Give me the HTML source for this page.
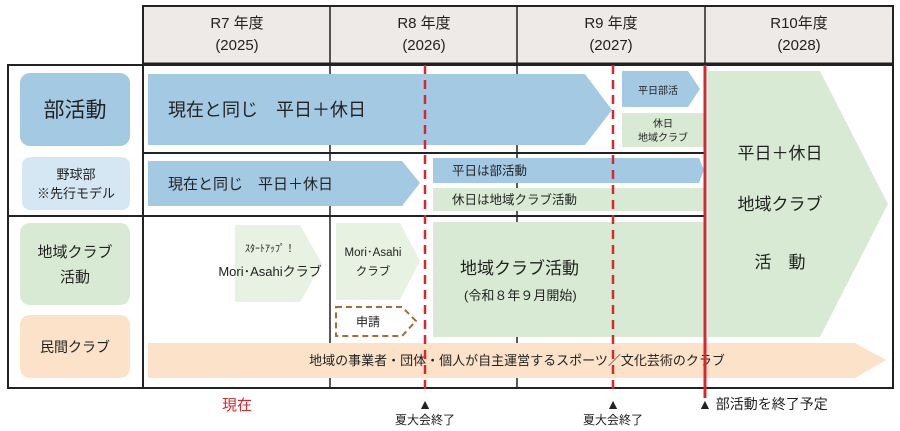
<html><head><style>body{margin:0;background:#fff}svg text{font-family:"Liberation Sans","Noto Sans CJK JP",sans-serif;fill:#222}</style></head><body>
<svg width="900" height="431" viewBox="0 0 900 431" xmlns="http://www.w3.org/2000/svg">
<rect x="143" y="6" width="750" height="58" fill="#eeeae8" stroke="#222" stroke-width="2"/>
<line x1="330" y1="6" x2="330" y2="64" stroke="#222" stroke-width="1.5"/>
<line x1="517" y1="6" x2="517" y2="64" stroke="#222" stroke-width="1.5"/>
<line x1="705" y1="6" x2="705" y2="64" stroke="#222" stroke-width="1.5"/>
<g font-size="15" text-anchor="middle">
<text x="237" y="28">R7 年度</text><text x="237" y="50">(2025)</text>
<text x="424" y="28">R8 年度</text><text x="424" y="50">(2026)</text>
<text x="611" y="28">R9 年度</text><text x="611" y="50">(2027)</text>
<text x="799" y="28">R10年度</text><text x="799" y="50">(2028)</text>
</g>
<rect x="8" y="65" width="885" height="323" fill="#fff" stroke="#222" stroke-width="2"/>
<line x1="143" y1="64" x2="893" y2="64" stroke="#222" stroke-width="3"/>
<line x1="143" y1="65" x2="143" y2="388" stroke="#222" stroke-width="2"/>
<line x1="330" y1="65" x2="330" y2="388" stroke="#222" stroke-width="1.5"/>
<line x1="517" y1="65" x2="517" y2="388" stroke="#222" stroke-width="1.5"/>
<line x1="143" y1="153" x2="705" y2="153" stroke="#222" stroke-width="2"/>
<line x1="8" y1="216" x2="705" y2="216" stroke="#222" stroke-width="2"/>
<rect x="20" y="73" width="110" height="73" rx="10" fill="#a3c9e3"/>
<rect x="22" y="157" width="108" height="53" rx="8" fill="#d6e7f4"/>
<rect x="20" y="223" width="110" height="82" rx="10" fill="#d8ead4"/>
<rect x="20" y="315" width="110" height="63" rx="10" fill="#fbe2c8"/>
<g text-anchor="middle">
<text x="75" y="117" font-size="21">部活動</text>
<text x="76" y="179" font-size="13">野球部</text><text x="76" y="198" font-size="13">※先行モデル</text>
<text x="75" y="257" font-size="15">地域クラブ</text><text x="75" y="282" font-size="15">活動</text>
<text x="75" y="352" font-size="14">民間クラブ</text>
</g>
<polygon points="148,74 585,74 612,110 585,145 148,145" fill="#a3c9e3"/>
<text x="168" y="116" font-size="18">現在と同じ　平日＋休日</text>
<polygon points="622,71 688,71 700,89 688,107 622,107" fill="#a3c9e3"/>
<text x="658" y="94" font-size="10" text-anchor="middle">平日部活</text>
<rect x="622" y="113" width="82" height="34" fill="#d8ead4"/>
<text x="663" y="127" font-size="10" text-anchor="middle">休日</text><text x="663" y="141" font-size="10" text-anchor="middle">地域クラブ</text>
<polygon points="148,161 402,161 420,183 402,206 148,206" fill="#a3c9e3"/>
<text x="168" y="189" font-size="15">現在と同じ　平日＋休日</text>
<polygon points="433,158 699,158 704,170 699,183 433,183" fill="#a3c9e3"/>
<text x="452" y="175" font-size="12.5">平日は部活動</text>
<rect x="433" y="188" width="271" height="23" fill="#d8ead4"/>
<text x="452" y="204" font-size="12.5">休日は地域クラブ活動</text>
<polygon points="708,71 820,71 888,204 820,337 708,337" fill="#d8ead4"/>
<g font-size="17" text-anchor="middle"><text x="780" y="159">平日＋休日</text><text x="780" y="210">地域クラブ</text><text x="780" y="268">活　動</text></g>
<polygon points="235,225 300,225 322,264 300,302 235,302" fill="#e7f2e3"/>
<text x="270" y="252" font-size="10" text-anchor="middle">ｽﾀｰﾄｱｯﾌﾟ！</text>
<text x="270" y="276" font-size="13" text-anchor="middle">Mori･Asahiクラブ</text>
<polygon points="336,223 400,223 420,261 400,300 336,300" fill="#e7f2e3"/>
<text x="373" y="256" font-size="11.5" text-anchor="middle">Mori･Asahi</text>
<text x="373" y="275" font-size="11.5" text-anchor="middle">クラブ</text>
<polygon points="336,307 402,307 416,321 402,336 336,336" fill="none" stroke="#a86a3a" stroke-width="2" stroke-dasharray="6,4"/>
<text x="368" y="326" font-size="12" text-anchor="middle">申請</text>
<rect x="433" y="222" width="271" height="115" fill="#d8ead4"/>
<text x="460" y="274" font-size="17">地域クラブ活動</text>
<text x="464" y="300" font-size="13">(令和８年９月開始)</text>
<polygon points="148,343 855,343 886,360 855,378 148,378" fill="#fbe2c8"/>
<text x="517" y="365" font-size="13" text-anchor="middle">地域の事業者・団体・個人が自主運営するスポーツ／文化芸術のクラブ</text>
<line x1="425" y1="65" x2="425" y2="394" stroke="#d7282f" stroke-width="2.5" stroke-dasharray="9,6"/>
<line x1="613" y1="65" x2="613" y2="394" stroke="#d7282f" stroke-width="2.5" stroke-dasharray="9,6"/>
<line x1="705" y1="65" x2="705" y2="398" stroke="#d7282f" stroke-width="3"/>
<text x="237" y="410" font-size="15" text-anchor="middle" style="fill:#d7282f">現在</text>
<g font-size="12" text-anchor="middle"><text x="425" y="409" font-size="14">▲</text><text x="425" y="424">夏大会終了</text>
<text x="613" y="409" font-size="14">▲</text><text x="613" y="424">夏大会終了</text></g>
<text x="698" y="409" font-size="14">▲ 部活動を終了予定</text>
</svg></body></html>
